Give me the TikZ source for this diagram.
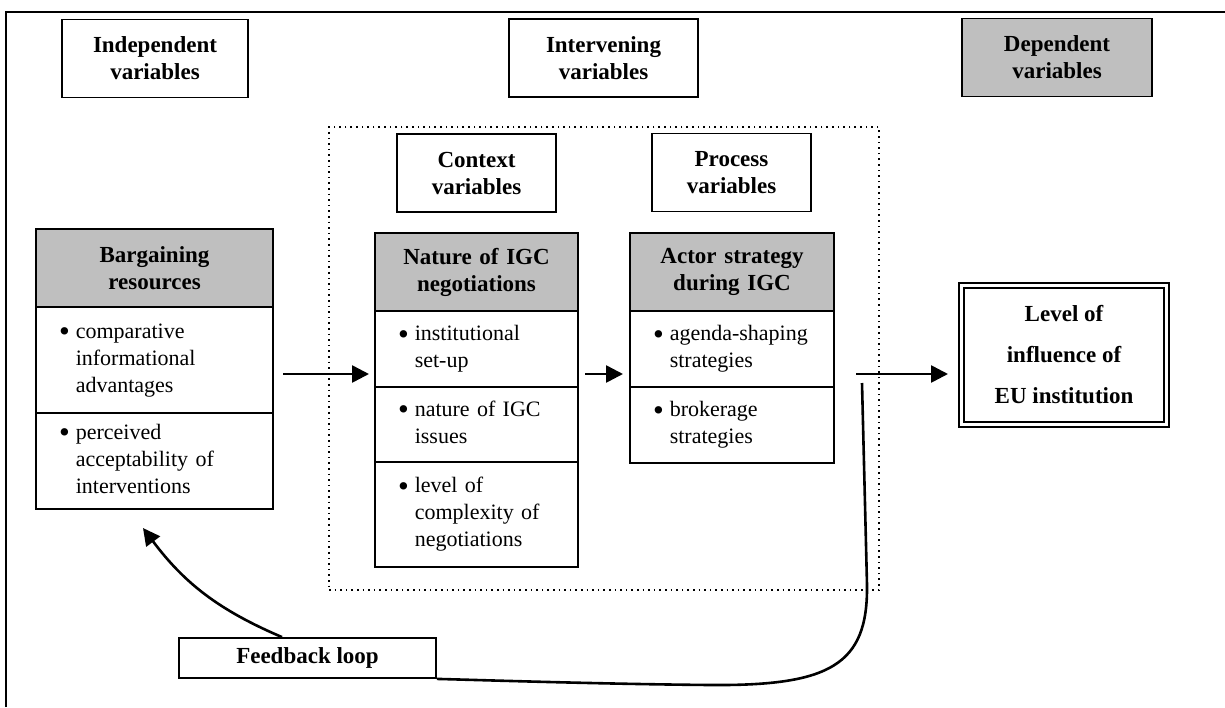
\documentclass[tikz,border=0pt]{standalone}
\usepackage{fontspec}
\setmainfont{Liberation Serif}
\usetikzlibrary{positioning, calc, arrows.meta}

\newcommand{\figfont}{\fontsize{11}{13.5}\selectfont}
\newcommand{\figbold}{\fontsize{11.5}{13.5}\selectfont\bfseries}
\newcommand{\bul}[1]{\raisebox{-0.15em}{\scalebox{1.4}{\textbullet}}\hspace{3pt}\begin{tabular}[t]{@{}l@{}}#1\end{tabular}}

\begin{document}
\begin{tikzpicture}[x=0.5pt, y=-0.5pt,
  every node/.style={font=\figfont},
  varbox/.style={draw, line width=0.9pt, font=\figbold, align=center, minimum width=#1, minimum height=39pt, inner sep=0pt},
  hdcell/.style={draw, line width=0.9pt, fill=black!25, font=\figbold, align=center, text width=#1, inner xsep=13pt, inner ysep=0pt, outer sep=0pt, minimum height=39pt},
  itcell/.style={draw, line width=0.9pt, align=left, text width=#1, inner xsep=11.5pt, inner ysep=0pt, outer sep=0pt},
  flow/.style={line width=1.3pt, -{Triangle[length=8.5pt,width=8.5pt]}},
  loopline/.style={line width=1.3pt}]
  \useasboundingbox (0,0) rectangle (1225,707);
  \draw[line width=1.2pt] (6,707) -- (6,12) -- (1225,12);

  \node[varbox=93pt] (indep) at (155,58.5) {Independent\\variables};
  \node[varbox=94.5pt] (interv) at (603.5,58) {Intervening\\variables};
  \node[varbox=95pt, fill=black!25] (dep) at (1057,57.5) {Dependent\\variables};

  \node[draw, dotted, line width=0.8pt, minimum width=275pt, minimum height=231.5pt, inner sep=0pt] (grp) at (604,358.5) {};
  \node[varbox=79.5pt] (ctx) at (476.5,173) {Context\\variables};
  \node[varbox=79.5pt] (proc) at (731.5,172.5) {Process\\variables};

  \node[hdcell=92.5pt] (barg) at (154.5,268) {Bargaining\\resources};
  \node[itcell=95.5pt, minimum height=53pt, below=0pt of barg] (b1) {\bul{comparative\\informational\\advantages}};
  \node[itcell=95.5pt, minimum height=48pt, below=0pt of b1] (b2) {\bul{perceived\\acceptability of\\interventions}};

  \node[hdcell=75.5pt] (nat) at (476.5,272) {Nature of IGC\\negotiations};
  \node[itcell=78.5pt, minimum height=38pt, below=0pt of nat] (n1) {\bul{institutional\\set-up}};
  \node[itcell=78.5pt, minimum height=37.5pt, below=0pt of n1] (n2) {\bul{nature of IGC\\issues}};
  \node[itcell=78.5pt, minimum height=52.5pt, below=0pt of n2] (n3) {\bul{level of\\complexity of\\negotiations}};

  \node[hdcell=76pt] (act) at (732,272) {Actor strategy\\during IGC};
  \node[itcell=79pt, minimum height=38pt, below=0pt of act] (a1) {\bul{agenda-shaping\\strategies}};
  \node[itcell=79pt, minimum height=38pt, below=0pt of a1] (a2) {\bul{brokerage\\strategies}};

  \node[draw, double, line width=1pt, double distance=1.5pt, outer sep=0pt, minimum width=102.5pt, minimum height=69.5pt, align=center, font=\fontsize{11.5}{20.5}\selectfont\bfseries] (lev) at (1064,355) {Level of\\influence of\\EU institution};

  \node[draw, line width=0.9pt, minimum width=128.5pt, minimum height=20pt, inner sep=0pt, font=\figbold] (fb) at (307.5,658) {Feedback loop};

  \coordinate (row) at (0,374);
  \coordinate (fbstart) at (862,383);
  \coordinate (fbtip) at (143,528);

  \draw[flow, shorten <=5pt, shorten >=3pt] (b1.east |- row) -- (n1.west |- row);
  \draw[flow, shorten <=3.5pt, shorten >=3.5pt] (n1.east |- row) -- (a1.west |- row);
  \draw[flow, shorten <=11pt, shorten >=6.75pt] (a1.east |- row) -- (lev.west |- row);

  \draw[loopline] (fbstart) -- (867,585) .. controls (868,665) and (830,686) .. (710,685) .. controls (600,684) and (480,680) .. (fb.south east);
  \draw[flow] ([xshift=-12.75pt]fb.north) to[bend left=15] (fbtip);
\end{tikzpicture}
\end{document}
